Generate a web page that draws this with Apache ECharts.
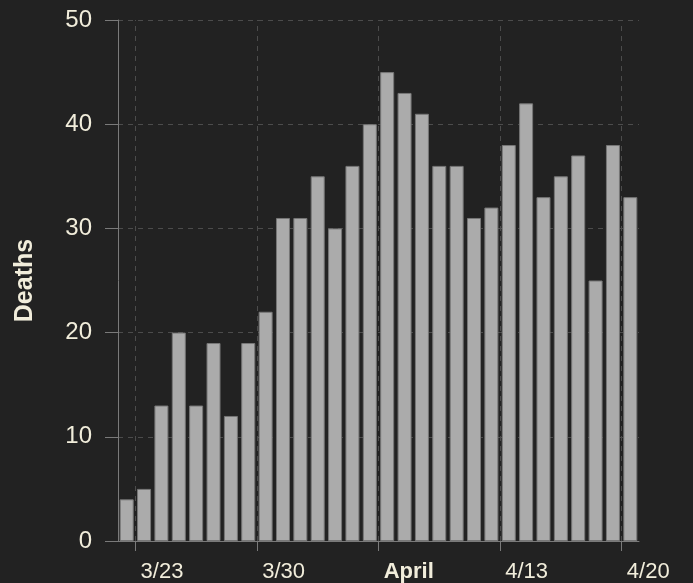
<!DOCTYPE html>
<html>
<head>
<meta charset="utf-8">
<script src="https://cdn.jsdelivr.net/npm/echarts@6/dist/echarts.min.js"></script>
<style>
  html, body { margin: 0; padding: 0; background: #222222; }
  #main { width: 693px; height: 583px; }
</style>
</head>
<body>
<div id="main"></div>
<script>
// 日期 (3/22 - 4/20)
var days = ['3/22','3/23','3/24','3/25','3/26','3/27','3/28','3/29','3/30','3/31',
            '4/1','4/2','4/3','4/4','4/5','4/6','4/7','4/8','4/9','4/10',
            '4/11','4/12','4/13','4/14','4/15','4/16','4/17','4/18','4/19','4/20'];
// 每日死亡数
var deaths = [4, 5, 13, 20, 13, 19, 12, 19, 22, 31,
              31, 35, 30, 36, 40, 45, 43, 41, 36, 36,
              31, 32, 38, 42, 33, 35, 37, 25, 38, 33];
// 刻度标签 (每周一次)
var tickDays = ['3/23', '3/30', '4/6', '4/13', '4/20'];
var tickNames = {'3/23': '3/23', '3/30': '3/30', '4/6': 'April', '4/13': '4/13', '4/20': '4/20'};

var textColor = '#f1eddb';
var axisColor = '#7a7a7a';
var gridColor = '#4c4c4c';

// 每天一个位置, 刻度在当天柱子的左边界
var tickIdx = tickDays.map(function (d) { return days.indexOf(d); });
var tickPos = tickIdx.map(function (i) { return i - 0.5; });
// 标签左对齐, 稍微靠右于刻度
var labelPos = tickIdx.map(function (i) { return i - 0.2; });

var barData = deaths.map(function (v, i) { return [i, v]; });

var myChart = echarts.init(document.getElementById('main'));

var option = {
    backgroundColor: '#222222',
    animation: false,
    textStyle: { fontFamily: 'Liberation Sans, Arial, sans-serif' },
    grid: {
        left: 118,
        right: 54,
        top: 20,
        bottom: 40,
        containLabel: false
    },
    xAxis: {
        type: 'value',
        min: -0.5,
        max: days.length - 0.5,
        axisLine: { show: true, onZero: false, lineStyle: { color: axisColor, width: 1 } },
        axisTick: { show: true, customValues: tickPos, length: 10, lineStyle: { color: axisColor } },
        splitLine: { show: false },
        axisLabel: {
            customValues: labelPos,
            align: 'left',
            margin: 20,
            fontSize: 22,
            color: textColor,
            formatter: function (v) {
                var name = tickNames[days[Math.round(v)]] || '';
                if (name === 'April') return '{b|April}';
                return name;
            },
            rich: {
                b: { fontSize: 22, fontWeight: 'bold', color: textColor }
            }
        }
    },
    yAxis: {
        type: 'value',
        min: 0,
        max: 50,
        interval: 10,
        name: 'Deaths',
        nameLocation: 'middle',
        nameRotate: 90,
        nameGap: 80,
        nameTextStyle: { fontSize: 25, fontWeight: 'bold', color: textColor },
        axisLine: { show: true, onZero: false, lineStyle: { color: axisColor, width: 1 } },
        axisTick: { show: true, length: 13, lineStyle: { color: axisColor } },
        splitLine: { show: true, lineStyle: { color: gridColor, type: [5, 5] } },
        axisLabel: { fontSize: 24, margin: 26, color: textColor }
    },
    series: [
        {
            // 竖向网格线 (每周)
            type: 'line',
            data: [],
            z: 1,
            silent: true,
            markLine: {
                silent: true,
                symbol: 'none',
                label: { show: false },
                lineStyle: { color: gridColor, type: [5, 5], width: 1 },
                data: tickPos.map(function (p) { return { xAxis: p }; })
            }
        },
        {
            name: 'Deaths',
            type: 'bar',
            data: barData,
            barWidth: 14,
            z: 2,
            itemStyle: {
                color: '#ababab',
                borderColor: '#777777',
                borderWidth: 1
            }
        }
    ]
};
myChart.setOption(option);
</script>
</body>
</html>
